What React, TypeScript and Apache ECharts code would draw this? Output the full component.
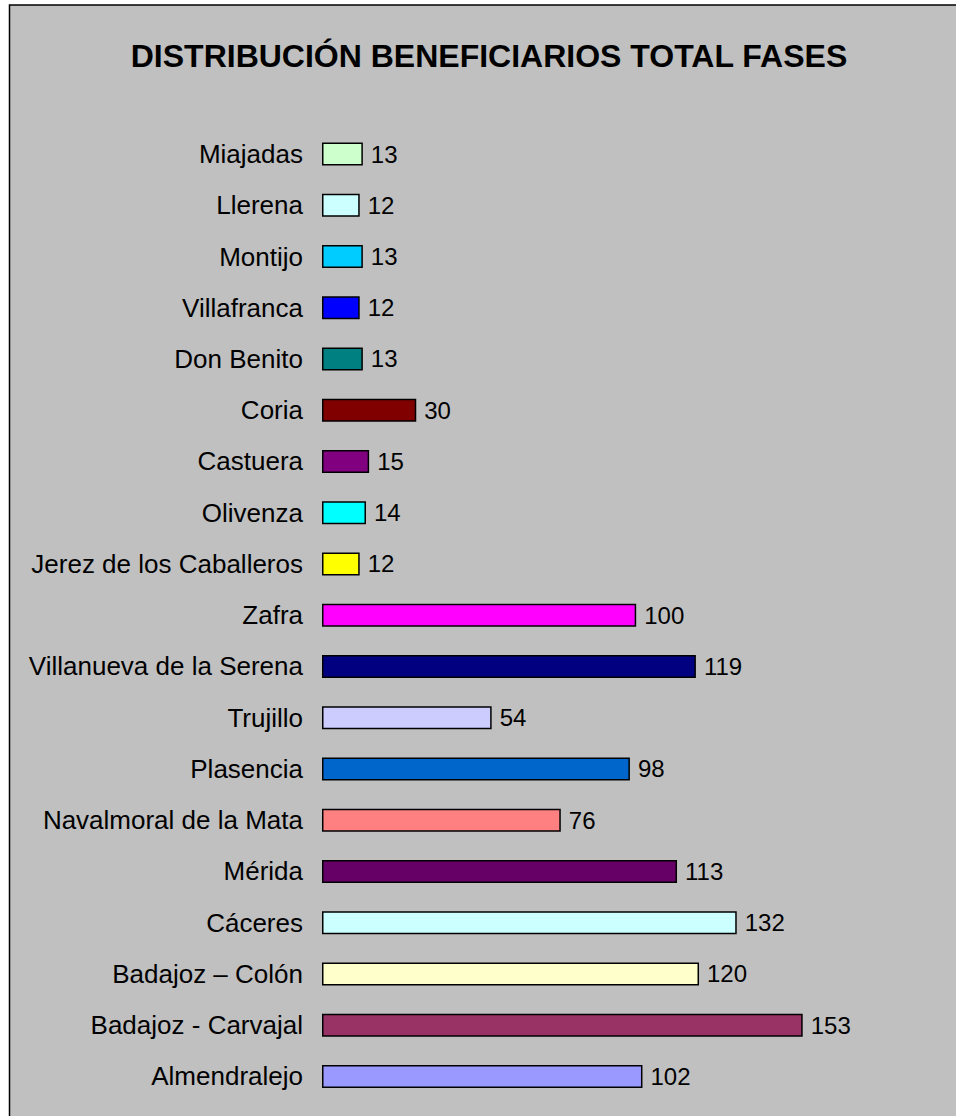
import React, { useEffect, useRef } from "react";
import * as echarts from "echarts";

const titleText = "DISTRIBUCIÓN BENEFICIARIOS TOTAL FASES";

const categories = [
  "Miajadas",
  "Llerena",
  "Montijo",
  "Villafranca",
  "Don Benito",
  "Coria",
  "Castuera",
  "Olivenza",
  "Jerez de los Caballeros",
  "Zafra",
  "Villanueva de la Serena",
  "Trujillo",
  "Plasencia",
  "Navalmoral de la Mata",
  "Mérida",
  "Cáceres",
  "Badajoz – Colón",
  "Badajoz - Carvajal",
  "Almendralejo",
];

const values = [13, 12, 13, 12, 13, 30, 15, 14, 12, 100, 119, 54, 98, 76, 113, 132, 120, 153, 102];

const barColors = [
  "#CCFFCC",
  "#CCFFFF",
  "#00CCFF",
  "#0000FF",
  "#008080",
  "#800000",
  "#800080",
  "#00FFFF",
  "#FFFF00",
  "#FF00FF",
  "#000080",
  "#CCCCFF",
  "#0066CC",
  "#FF8080",
  "#660066",
  "#CCFFFF",
  "#FFFFCC",
  "#993366",
  "#9999FF",
];

const FONT = "'Liberation Sans', Arial, sans-serif";

export default function App() {
  const ref = useRef<HTMLDivElement>(null);

  useEffect(() => {
    if (!ref.current) return;
    const chart = echarts.init(ref.current, null, { renderer: "svg" });
    chart.setOption({
      animation: false,
      backgroundColor: "transparent",
      graphic: [
        {
          type: "rect",
          z: -10,
          silent: true,
          shape: { x: 1.5, y: 1, width: 2000, height: 2000 },
          style: { fill: "#C0C0C0", stroke: "#000", lineWidth: 1.5 },
        },
        {
          type: "text",
          x: 481,
          y: 52,
          style: {
            text: titleText,
            fontSize: 32,
            fontWeight: "bold",
            fontFamily: FONT,
            fill: "#000",
            textAlign: "center",
            textVerticalAlign: "middle",
          },
        },
      ],
      grid: { left: 314, top: 124.4, width: 502.7, height: 973.6 },
      xAxis: { type: "value", min: 0, max: 160, show: false },
      yAxis: {
        type: "category",
        data: categories,
        inverse: true,
        axisLine: { show: false },
        axisTick: { show: false },
        splitLine: { show: false },
        axisLabel: { fontSize: 26, color: "#000", margin: 19, fontFamily: FONT },
      },
      series: [
        {
          type: "bar",
          data: values.map((v, i) => ({ value: v, itemStyle: { color: barColors[i] } })),
          barWidth: 23,
          itemStyle: { borderColor: "#000", borderWidth: 1.5 },
          label: {
            show: true,
            position: "right",
            distance: 8,
            fontSize: 24,
            color: "#000",
            fontFamily: FONT,
          },
        },
      ],
    });
    return () => chart.dispose();
  }, []);

  return (
    <div
      ref={ref}
      style={{ position: "absolute", left: 8, top: 4, width: 948, height: 1112 }}
    />
  );
}
